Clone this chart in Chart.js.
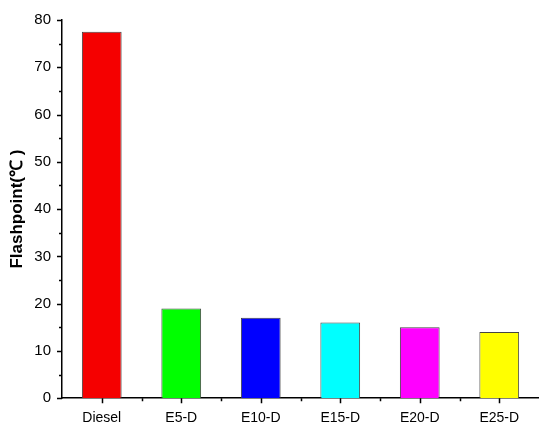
<!DOCTYPE html>
<html>
<head>
<meta charset="utf-8">
<script src="https://cdn.jsdelivr.net/npm/chart.js@4"></script>
<style>
  body { margin: 0; background: #fff; }
</style>
</head>
<body>
<canvas id="flashChart" width="539" height="424"></canvas>
<script>
// fuel blends and their flashpoints
const fuels = ["Diesel", "E5-D", "E10-D", "E15-D", "E20-D", "E25-D"];
const flashpoints = [77.5, 19, 17, 16, 15, 14];
const barColors = ["#f50000", "#00ff00", "#0000ff", "#00ffff", "#ff00ff", "#ffff00"];
const yTicks = [0, 10, 20, 30, 40, 50, 60, 70, 80];

// tick marks drawn outward, major + minor, like the Origin style
const tickMarks = {
    id: "tickMarks",
    afterDraw(chart) {
        const ctx = chart.ctx;
        const x = chart.scales.x, y = chart.scales.y;
        ctx.save();
        ctx.strokeStyle = "#000";
        ctx.lineWidth = 1.5;
        ctx.beginPath();
        for (let v = 0; v <= 80; v += 5) {
            const py = Math.round(y.getPixelForValue(v)) + 0.5;
            const len = v % 10 === 0 ? 5 : 3;
            ctx.moveTo(x.left - len, py);
            ctx.lineTo(x.left, py);
        }
        fuels.forEach((f, i) => {
            const px = Math.round(x.getPixelForValue(i)) + 0.5;
            ctx.moveTo(px, y.bottom);
            ctx.lineTo(px, y.bottom + 5);
            if (i > 0) {
                const mx = Math.round((x.getPixelForValue(i) + x.getPixelForValue(i - 1)) / 2) + 0.5;
                ctx.moveTo(mx, y.bottom);
                ctx.lineTo(mx, y.bottom + 3);
            }
        });
        ctx.stroke();
        ctx.restore();
    }
};

new Chart(document.getElementById("flashChart"), {
    type: "bar",
    data: {
        labels: fuels,
        datasets: [{
            data: flashpoints,
            backgroundColor: barColors,
            borderColor: "#444",
            borderWidth: 1,
            barPercentage: 1,
            categoryPercentage: 0.5
        }]
    },
    options: {
        responsive: false,
        animation: false,
        layout: { padding: { top: 16, right: 0, left: 0, bottom: -15 } },
        plugins: {
            legend: { display: false },
            tooltip: { enabled: false }
        },
        scales: {
            x: {
                grid: { display: false, drawTicks: false },
                border: { color: "#000", width: 1.5 },
                ticks: {
                    color: "#000",
                    padding: 12,
                    font: { family: "Liberation Sans, Arial", size: 14 }
                }
            },
            y: {
                min: 0,
                max: 80,
                afterBuildTicks: axis => { axis.ticks = yTicks.map(v => ({ value: v })); },
                afterFit: axis => { axis.width = 62; },
                grid: { display: false, drawTicks: false },
                border: { color: "#000", width: 1.5 },
                ticks: {
                    color: "#000",
                    padding: 11,
                    font: { family: "Liberation Sans, Arial", size: 15 }
                },
                title: {
                    display: true,
                    text: "Flashpoint(℃ )",
                    color: "#000",
                    padding: { top: 7, bottom: 4 },
                    font: { family: "Liberation Sans, Arial", size: 17, weight: "bold" }
                }
            }
        }
    },
    plugins: [tickMarks]
});
</script>
</body>
</html>
